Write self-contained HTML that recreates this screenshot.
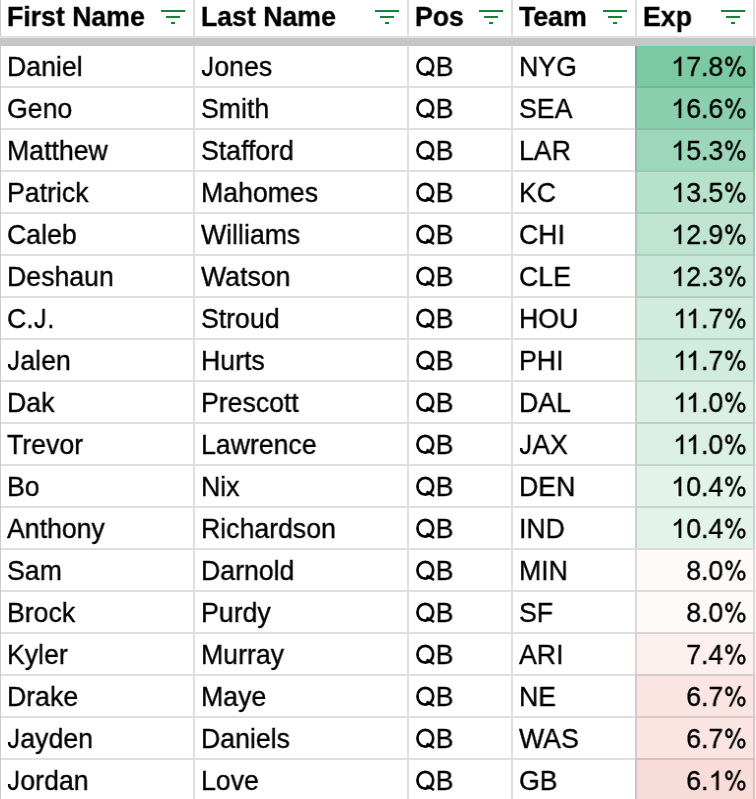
<!DOCTYPE html>
<html><head><meta charset="utf-8"><style>
html,body{margin:0;padding:0;}
body{width:756px;height:799px;overflow:hidden;position:relative;background:#fff;font-family:"Liberation Sans",sans-serif;color:#000;}
.a{position:absolute;}
.t{position:absolute;font-size:27.1px;line-height:40px;white-space:nowrap;will-change:transform;transform:scaleX(0.9841328413284133);transform-origin:0 0;-webkit-text-stroke:0.35px #000;}
.h{font-weight:bold;}
.one{width:0.556em;height:20px;vertical-align:baseline;fill:#000;stroke:#000;stroke-width:27px;overflow:visible}
.k{margin-right:-0.0742em}
.q{width:0.778em;height:22px;vertical-align:baseline;overflow:visible}
.q ellipse{fill:none;stroke:#000;stroke-width:2.65px}
.q line{stroke:#000;stroke-width:2.5px}
.jj{width:0.5em;height:22px;vertical-align:baseline;overflow:visible}
.jj path{fill:none;stroke:#000;stroke-width:2.55px}
.pct{width:0.889em;height:22px;vertical-align:baseline;overflow:visible}
.pct ellipse{fill:none;stroke:#000;stroke-width:2.25px}
.pct .sl{fill:#000;stroke:#000;stroke-width:0.3px}
.r{text-align:right;transform-origin:100% 0;}
.f{position:absolute;background:#188038;height:2px;}
.vb{position:absolute;width:2px;top:0;height:799px;background:rgba(0,0,0,0.125);}
.hb{position:absolute;height:2px;left:0;width:756px;background:rgba(0,0,0,0.125);}
</style></head><body>

<div class="a" style="left:635px;top:44px;width:120px;height:42px;background:#7ac9a2"></div>
<div class="a" style="left:635px;top:86px;width:120px;height:42px;background:#8bd0ae"></div>
<div class="a" style="left:635px;top:128px;width:120px;height:42px;background:#9dd7bb"></div>
<div class="a" style="left:635px;top:170px;width:120px;height:42px;background:#b6e2cc"></div>
<div class="a" style="left:635px;top:212px;width:120px;height:42px;background:#bfe5d2"></div>
<div class="a" style="left:635px;top:254px;width:120px;height:42px;background:#c7e8d8"></div>
<div class="a" style="left:635px;top:296px;width:120px;height:42px;background:#d0ecde"></div>
<div class="a" style="left:635px;top:338px;width:120px;height:42px;background:#d0ecde"></div>
<div class="a" style="left:635px;top:380px;width:120px;height:42px;background:#daf0e5"></div>
<div class="a" style="left:635px;top:422px;width:120px;height:42px;background:#daf0e5"></div>
<div class="a" style="left:635px;top:464px;width:120px;height:42px;background:#e2f3eb"></div>
<div class="a" style="left:635px;top:506px;width:120px;height:42px;background:#e2f3eb"></div>
<div class="a" style="left:635px;top:548px;width:120px;height:42px;background:#fefaf9"></div>
<div class="a" style="left:635px;top:590px;width:120px;height:42px;background:#fefaf9"></div>
<div class="a" style="left:635px;top:632px;width:120px;height:42px;background:#fcf0ef"></div>
<div class="a" style="left:635px;top:674px;width:120px;height:42px;background:#fae5e3"></div>
<div class="a" style="left:635px;top:716px;width:120px;height:42px;background:#fae5e3"></div>
<div class="a" style="left:635px;top:758px;width:120px;height:42px;background:#f8dcd9"></div>
<div class="hb" style="top:86px"></div>
<div class="hb" style="top:128px"></div>
<div class="hb" style="top:170px"></div>
<div class="hb" style="top:212px"></div>
<div class="hb" style="top:254px"></div>
<div class="hb" style="top:296px"></div>
<div class="hb" style="top:338px"></div>
<div class="hb" style="top:380px"></div>
<div class="hb" style="top:422px"></div>
<div class="hb" style="top:464px"></div>
<div class="hb" style="top:506px"></div>
<div class="hb" style="top:548px"></div>
<div class="hb" style="top:590px"></div>
<div class="hb" style="top:632px"></div>
<div class="hb" style="top:674px"></div>
<div class="hb" style="top:716px"></div>
<div class="hb" style="top:758px"></div>
<div class="hb" style="top:800px"></div>
<div class="vb" style="left:193px;top:0px;height:36px"></div>
<div class="vb" style="left:193px;top:46px;height:40px"></div>
<div class="vb" style="left:193px;top:88px;height:40px"></div>
<div class="vb" style="left:193px;top:130px;height:40px"></div>
<div class="vb" style="left:193px;top:172px;height:40px"></div>
<div class="vb" style="left:193px;top:214px;height:40px"></div>
<div class="vb" style="left:193px;top:256px;height:40px"></div>
<div class="vb" style="left:193px;top:298px;height:40px"></div>
<div class="vb" style="left:193px;top:340px;height:40px"></div>
<div class="vb" style="left:193px;top:382px;height:40px"></div>
<div class="vb" style="left:193px;top:424px;height:40px"></div>
<div class="vb" style="left:193px;top:466px;height:40px"></div>
<div class="vb" style="left:193px;top:508px;height:40px"></div>
<div class="vb" style="left:193px;top:550px;height:40px"></div>
<div class="vb" style="left:193px;top:592px;height:40px"></div>
<div class="vb" style="left:193px;top:634px;height:40px"></div>
<div class="vb" style="left:193px;top:676px;height:40px"></div>
<div class="vb" style="left:193px;top:718px;height:40px"></div>
<div class="vb" style="left:193px;top:760px;height:40px"></div>
<div class="vb" style="left:407px;top:0px;height:36px"></div>
<div class="vb" style="left:407px;top:46px;height:40px"></div>
<div class="vb" style="left:407px;top:88px;height:40px"></div>
<div class="vb" style="left:407px;top:130px;height:40px"></div>
<div class="vb" style="left:407px;top:172px;height:40px"></div>
<div class="vb" style="left:407px;top:214px;height:40px"></div>
<div class="vb" style="left:407px;top:256px;height:40px"></div>
<div class="vb" style="left:407px;top:298px;height:40px"></div>
<div class="vb" style="left:407px;top:340px;height:40px"></div>
<div class="vb" style="left:407px;top:382px;height:40px"></div>
<div class="vb" style="left:407px;top:424px;height:40px"></div>
<div class="vb" style="left:407px;top:466px;height:40px"></div>
<div class="vb" style="left:407px;top:508px;height:40px"></div>
<div class="vb" style="left:407px;top:550px;height:40px"></div>
<div class="vb" style="left:407px;top:592px;height:40px"></div>
<div class="vb" style="left:407px;top:634px;height:40px"></div>
<div class="vb" style="left:407px;top:676px;height:40px"></div>
<div class="vb" style="left:407px;top:718px;height:40px"></div>
<div class="vb" style="left:407px;top:760px;height:40px"></div>
<div class="vb" style="left:511px;top:0px;height:36px"></div>
<div class="vb" style="left:511px;top:46px;height:40px"></div>
<div class="vb" style="left:511px;top:88px;height:40px"></div>
<div class="vb" style="left:511px;top:130px;height:40px"></div>
<div class="vb" style="left:511px;top:172px;height:40px"></div>
<div class="vb" style="left:511px;top:214px;height:40px"></div>
<div class="vb" style="left:511px;top:256px;height:40px"></div>
<div class="vb" style="left:511px;top:298px;height:40px"></div>
<div class="vb" style="left:511px;top:340px;height:40px"></div>
<div class="vb" style="left:511px;top:382px;height:40px"></div>
<div class="vb" style="left:511px;top:424px;height:40px"></div>
<div class="vb" style="left:511px;top:466px;height:40px"></div>
<div class="vb" style="left:511px;top:508px;height:40px"></div>
<div class="vb" style="left:511px;top:550px;height:40px"></div>
<div class="vb" style="left:511px;top:592px;height:40px"></div>
<div class="vb" style="left:511px;top:634px;height:40px"></div>
<div class="vb" style="left:511px;top:676px;height:40px"></div>
<div class="vb" style="left:511px;top:718px;height:40px"></div>
<div class="vb" style="left:511px;top:760px;height:40px"></div>
<div class="vb" style="left:635px;top:0px;height:36px"></div>
<div class="vb" style="left:635px;top:46px;height:40px"></div>
<div class="vb" style="left:635px;top:88px;height:40px"></div>
<div class="vb" style="left:635px;top:130px;height:40px"></div>
<div class="vb" style="left:635px;top:172px;height:40px"></div>
<div class="vb" style="left:635px;top:214px;height:40px"></div>
<div class="vb" style="left:635px;top:256px;height:40px"></div>
<div class="vb" style="left:635px;top:298px;height:40px"></div>
<div class="vb" style="left:635px;top:340px;height:40px"></div>
<div class="vb" style="left:635px;top:382px;height:40px"></div>
<div class="vb" style="left:635px;top:424px;height:40px"></div>
<div class="vb" style="left:635px;top:466px;height:40px"></div>
<div class="vb" style="left:635px;top:508px;height:40px"></div>
<div class="vb" style="left:635px;top:550px;height:40px"></div>
<div class="vb" style="left:635px;top:592px;height:40px"></div>
<div class="vb" style="left:635px;top:634px;height:40px"></div>
<div class="vb" style="left:635px;top:676px;height:40px"></div>
<div class="vb" style="left:635px;top:718px;height:40px"></div>
<div class="vb" style="left:635px;top:760px;height:40px"></div>
<div class="vb" style="left:753px;top:0px;height:36px"></div>
<div class="vb" style="left:753px;top:46px;height:40px"></div>
<div class="vb" style="left:753px;top:88px;height:40px"></div>
<div class="vb" style="left:753px;top:130px;height:40px"></div>
<div class="vb" style="left:753px;top:172px;height:40px"></div>
<div class="vb" style="left:753px;top:214px;height:40px"></div>
<div class="vb" style="left:753px;top:256px;height:40px"></div>
<div class="vb" style="left:753px;top:298px;height:40px"></div>
<div class="vb" style="left:753px;top:340px;height:40px"></div>
<div class="vb" style="left:753px;top:382px;height:40px"></div>
<div class="vb" style="left:753px;top:424px;height:40px"></div>
<div class="vb" style="left:753px;top:466px;height:40px"></div>
<div class="vb" style="left:753px;top:508px;height:40px"></div>
<div class="vb" style="left:753px;top:550px;height:40px"></div>
<div class="vb" style="left:753px;top:592px;height:40px"></div>
<div class="vb" style="left:753px;top:634px;height:40px"></div>
<div class="vb" style="left:753px;top:676px;height:40px"></div>
<div class="vb" style="left:753px;top:718px;height:40px"></div>
<div class="vb" style="left:753px;top:760px;height:40px"></div>
<div class="a" style="left:0;top:0;width:1px;height:799px;background:#c7cbcb"></div>
<div class="a" style="left:0;top:36px;width:756px;height:2px;background:#e0e0e0"></div>
<div class="a" style="left:0;top:38px;width:756px;height:8px;background:#c6c6c6"></div>
<div class="t h" style="left:7px;top:-3px">First Name</div>
<div class="f" style="left:161px;top:10px;width:24px"></div>
<div class="f" style="left:166px;top:16px;width:14px"></div>
<div class="f" style="left:171px;top:22px;width:4px"></div>
<div class="t h" style="left:201px;top:-3px">Last Name</div>
<div class="f" style="left:375px;top:10px;width:24px"></div>
<div class="f" style="left:380px;top:16px;width:14px"></div>
<div class="f" style="left:385px;top:22px;width:4px"></div>
<div class="t h" style="left:415px;top:-3px">Pos</div>
<div class="f" style="left:479px;top:10px;width:24px"></div>
<div class="f" style="left:484px;top:16px;width:14px"></div>
<div class="f" style="left:489px;top:22px;width:4px"></div>
<div class="t h" style="left:519px;top:-3px">Team</div>
<div class="f" style="left:603px;top:10px;width:24px"></div>
<div class="f" style="left:608px;top:16px;width:14px"></div>
<div class="f" style="left:613px;top:22px;width:4px"></div>
<div class="t h" style="left:643px;top:-3px">Exp</div>
<div class="f" style="left:721px;top:10px;width:24px"></div>
<div class="f" style="left:726px;top:16px;width:14px"></div>
<div class="f" style="left:731px;top:22px;width:4px"></div>
<div class="t" style="left:7px;top:47px">Daniel</div>
<div class="t" style="left:201px;top:47px"><svg class="jj" viewBox="0 -22 13.33 22" preserveAspectRatio="none"><path d="M9.95 -19.3L9.95 -7.0C9.95 -2.6 8.3 -1.1 6.0 -1.1C3.4 -1.1 2.1 -2.7 2.1 -6.0"/></svg>ones</div>
<div class="t" style="left:415px;top:47px"><svg class="q" viewBox="0 -22 20.75 22" preserveAspectRatio="none"><ellipse cx="10.25" cy="-9.75" rx="7.85" ry="8.45"/><line x1="11.4" y1="-4.3" x2="19.0" y2="0"/></svg>B</div>
<div class="t" style="left:519px;top:47px">NYG</div>
<div class="t r" style="left:637px;width:110px;top:47px"><svg class="one" viewBox="0 -1536 1139 1536" preserveAspectRatio="none"><path transform="scale(1,-1)" d="M763 0L583 0L583 1147Q518 1085 412 1023Q306 961 222 930L222 1104Q373 1175 486 1276Q599 1377 646 1472L763 1472Z"/></svg>7.8<svg class="pct" viewBox="0 -22 23.71 22" preserveAspectRatio="none"><ellipse cx="5.6" cy="-14.7" rx="2.8" ry="3.9"/><ellipse cx="18.0" cy="-4.6" rx="3.1" ry="4.1"/><path class="sl" d="M5.7 0.6L7.7 0.6L17.6 -20.0L15.6 -20.0Z"/></svg></div>
<div class="t" style="left:7px;top:89px">Geno</div>
<div class="t" style="left:201px;top:89px">Smith</div>
<div class="t" style="left:415px;top:89px"><svg class="q" viewBox="0 -22 20.75 22" preserveAspectRatio="none"><ellipse cx="10.25" cy="-9.75" rx="7.85" ry="8.45"/><line x1="11.4" y1="-4.3" x2="19.0" y2="0"/></svg>B</div>
<div class="t" style="left:519px;top:89px">SEA</div>
<div class="t r" style="left:637px;width:110px;top:89px"><svg class="one" viewBox="0 -1536 1139 1536" preserveAspectRatio="none"><path transform="scale(1,-1)" d="M763 0L583 0L583 1147Q518 1085 412 1023Q306 961 222 930L222 1104Q373 1175 486 1276Q599 1377 646 1472L763 1472Z"/></svg>6.6<svg class="pct" viewBox="0 -22 23.71 22" preserveAspectRatio="none"><ellipse cx="5.6" cy="-14.7" rx="2.8" ry="3.9"/><ellipse cx="18.0" cy="-4.6" rx="3.1" ry="4.1"/><path class="sl" d="M5.7 0.6L7.7 0.6L17.6 -20.0L15.6 -20.0Z"/></svg></div>
<div class="t" style="left:7px;top:131px">Matthew</div>
<div class="t" style="left:201px;top:131px">Stafford</div>
<div class="t" style="left:415px;top:131px"><svg class="q" viewBox="0 -22 20.75 22" preserveAspectRatio="none"><ellipse cx="10.25" cy="-9.75" rx="7.85" ry="8.45"/><line x1="11.4" y1="-4.3" x2="19.0" y2="0"/></svg>B</div>
<div class="t" style="left:519px;top:131px">LAR</div>
<div class="t r" style="left:637px;width:110px;top:131px"><svg class="one" viewBox="0 -1536 1139 1536" preserveAspectRatio="none"><path transform="scale(1,-1)" d="M763 0L583 0L583 1147Q518 1085 412 1023Q306 961 222 930L222 1104Q373 1175 486 1276Q599 1377 646 1472L763 1472Z"/></svg>5.3<svg class="pct" viewBox="0 -22 23.71 22" preserveAspectRatio="none"><ellipse cx="5.6" cy="-14.7" rx="2.8" ry="3.9"/><ellipse cx="18.0" cy="-4.6" rx="3.1" ry="4.1"/><path class="sl" d="M5.7 0.6L7.7 0.6L17.6 -20.0L15.6 -20.0Z"/></svg></div>
<div class="t" style="left:7px;top:173px">Patrick</div>
<div class="t" style="left:201px;top:173px">Mahomes</div>
<div class="t" style="left:415px;top:173px"><svg class="q" viewBox="0 -22 20.75 22" preserveAspectRatio="none"><ellipse cx="10.25" cy="-9.75" rx="7.85" ry="8.45"/><line x1="11.4" y1="-4.3" x2="19.0" y2="0"/></svg>B</div>
<div class="t" style="left:519px;top:173px">KC</div>
<div class="t r" style="left:637px;width:110px;top:173px"><svg class="one" viewBox="0 -1536 1139 1536" preserveAspectRatio="none"><path transform="scale(1,-1)" d="M763 0L583 0L583 1147Q518 1085 412 1023Q306 961 222 930L222 1104Q373 1175 486 1276Q599 1377 646 1472L763 1472Z"/></svg>3.5<svg class="pct" viewBox="0 -22 23.71 22" preserveAspectRatio="none"><ellipse cx="5.6" cy="-14.7" rx="2.8" ry="3.9"/><ellipse cx="18.0" cy="-4.6" rx="3.1" ry="4.1"/><path class="sl" d="M5.7 0.6L7.7 0.6L17.6 -20.0L15.6 -20.0Z"/></svg></div>
<div class="t" style="left:7px;top:215px">Caleb</div>
<div class="t" style="left:201px;top:215px">Williams</div>
<div class="t" style="left:415px;top:215px"><svg class="q" viewBox="0 -22 20.75 22" preserveAspectRatio="none"><ellipse cx="10.25" cy="-9.75" rx="7.85" ry="8.45"/><line x1="11.4" y1="-4.3" x2="19.0" y2="0"/></svg>B</div>
<div class="t" style="left:519px;top:215px">CHI</div>
<div class="t r" style="left:637px;width:110px;top:215px"><svg class="one" viewBox="0 -1536 1139 1536" preserveAspectRatio="none"><path transform="scale(1,-1)" d="M763 0L583 0L583 1147Q518 1085 412 1023Q306 961 222 930L222 1104Q373 1175 486 1276Q599 1377 646 1472L763 1472Z"/></svg>2.9<svg class="pct" viewBox="0 -22 23.71 22" preserveAspectRatio="none"><ellipse cx="5.6" cy="-14.7" rx="2.8" ry="3.9"/><ellipse cx="18.0" cy="-4.6" rx="3.1" ry="4.1"/><path class="sl" d="M5.7 0.6L7.7 0.6L17.6 -20.0L15.6 -20.0Z"/></svg></div>
<div class="t" style="left:7px;top:257px">Deshaun</div>
<div class="t" style="left:201px;top:257px">Watson</div>
<div class="t" style="left:415px;top:257px"><svg class="q" viewBox="0 -22 20.75 22" preserveAspectRatio="none"><ellipse cx="10.25" cy="-9.75" rx="7.85" ry="8.45"/><line x1="11.4" y1="-4.3" x2="19.0" y2="0"/></svg>B</div>
<div class="t" style="left:519px;top:257px">CLE</div>
<div class="t r" style="left:637px;width:110px;top:257px"><svg class="one" viewBox="0 -1536 1139 1536" preserveAspectRatio="none"><path transform="scale(1,-1)" d="M763 0L583 0L583 1147Q518 1085 412 1023Q306 961 222 930L222 1104Q373 1175 486 1276Q599 1377 646 1472L763 1472Z"/></svg>2.3<svg class="pct" viewBox="0 -22 23.71 22" preserveAspectRatio="none"><ellipse cx="5.6" cy="-14.7" rx="2.8" ry="3.9"/><ellipse cx="18.0" cy="-4.6" rx="3.1" ry="4.1"/><path class="sl" d="M5.7 0.6L7.7 0.6L17.6 -20.0L15.6 -20.0Z"/></svg></div>
<div class="t" style="left:7px;top:299px">C.<svg class="jj" viewBox="0 -22 13.33 22" preserveAspectRatio="none"><path d="M9.95 -19.3L9.95 -7.0C9.95 -2.6 8.3 -1.1 6.0 -1.1C3.4 -1.1 2.1 -2.7 2.1 -6.0"/></svg>.</div>
<div class="t" style="left:201px;top:299px">Stroud</div>
<div class="t" style="left:415px;top:299px"><svg class="q" viewBox="0 -22 20.75 22" preserveAspectRatio="none"><ellipse cx="10.25" cy="-9.75" rx="7.85" ry="8.45"/><line x1="11.4" y1="-4.3" x2="19.0" y2="0"/></svg>B</div>
<div class="t" style="left:519px;top:299px">HOU</div>
<div class="t r" style="left:637px;width:110px;top:299px"><svg class="one k" viewBox="0 -1536 1139 1536" preserveAspectRatio="none"><path transform="scale(1,-1)" d="M763 0L583 0L583 1147Q518 1085 412 1023Q306 961 222 930L222 1104Q373 1175 486 1276Q599 1377 646 1472L763 1472Z"/></svg><svg class="one" viewBox="0 -1536 1139 1536" preserveAspectRatio="none"><path transform="scale(1,-1)" d="M763 0L583 0L583 1147Q518 1085 412 1023Q306 961 222 930L222 1104Q373 1175 486 1276Q599 1377 646 1472L763 1472Z"/></svg>.7<svg class="pct" viewBox="0 -22 23.71 22" preserveAspectRatio="none"><ellipse cx="5.6" cy="-14.7" rx="2.8" ry="3.9"/><ellipse cx="18.0" cy="-4.6" rx="3.1" ry="4.1"/><path class="sl" d="M5.7 0.6L7.7 0.6L17.6 -20.0L15.6 -20.0Z"/></svg></div>
<div class="t" style="left:7px;top:341px"><svg class="jj" viewBox="0 -22 13.33 22" preserveAspectRatio="none"><path d="M9.95 -19.3L9.95 -7.0C9.95 -2.6 8.3 -1.1 6.0 -1.1C3.4 -1.1 2.1 -2.7 2.1 -6.0"/></svg>alen</div>
<div class="t" style="left:201px;top:341px">Hurts</div>
<div class="t" style="left:415px;top:341px"><svg class="q" viewBox="0 -22 20.75 22" preserveAspectRatio="none"><ellipse cx="10.25" cy="-9.75" rx="7.85" ry="8.45"/><line x1="11.4" y1="-4.3" x2="19.0" y2="0"/></svg>B</div>
<div class="t" style="left:519px;top:341px">PHI</div>
<div class="t r" style="left:637px;width:110px;top:341px"><svg class="one k" viewBox="0 -1536 1139 1536" preserveAspectRatio="none"><path transform="scale(1,-1)" d="M763 0L583 0L583 1147Q518 1085 412 1023Q306 961 222 930L222 1104Q373 1175 486 1276Q599 1377 646 1472L763 1472Z"/></svg><svg class="one" viewBox="0 -1536 1139 1536" preserveAspectRatio="none"><path transform="scale(1,-1)" d="M763 0L583 0L583 1147Q518 1085 412 1023Q306 961 222 930L222 1104Q373 1175 486 1276Q599 1377 646 1472L763 1472Z"/></svg>.7<svg class="pct" viewBox="0 -22 23.71 22" preserveAspectRatio="none"><ellipse cx="5.6" cy="-14.7" rx="2.8" ry="3.9"/><ellipse cx="18.0" cy="-4.6" rx="3.1" ry="4.1"/><path class="sl" d="M5.7 0.6L7.7 0.6L17.6 -20.0L15.6 -20.0Z"/></svg></div>
<div class="t" style="left:7px;top:383px">Dak</div>
<div class="t" style="left:201px;top:383px">Prescott</div>
<div class="t" style="left:415px;top:383px"><svg class="q" viewBox="0 -22 20.75 22" preserveAspectRatio="none"><ellipse cx="10.25" cy="-9.75" rx="7.85" ry="8.45"/><line x1="11.4" y1="-4.3" x2="19.0" y2="0"/></svg>B</div>
<div class="t" style="left:519px;top:383px">DAL</div>
<div class="t r" style="left:637px;width:110px;top:383px"><svg class="one k" viewBox="0 -1536 1139 1536" preserveAspectRatio="none"><path transform="scale(1,-1)" d="M763 0L583 0L583 1147Q518 1085 412 1023Q306 961 222 930L222 1104Q373 1175 486 1276Q599 1377 646 1472L763 1472Z"/></svg><svg class="one" viewBox="0 -1536 1139 1536" preserveAspectRatio="none"><path transform="scale(1,-1)" d="M763 0L583 0L583 1147Q518 1085 412 1023Q306 961 222 930L222 1104Q373 1175 486 1276Q599 1377 646 1472L763 1472Z"/></svg>.0<svg class="pct" viewBox="0 -22 23.71 22" preserveAspectRatio="none"><ellipse cx="5.6" cy="-14.7" rx="2.8" ry="3.9"/><ellipse cx="18.0" cy="-4.6" rx="3.1" ry="4.1"/><path class="sl" d="M5.7 0.6L7.7 0.6L17.6 -20.0L15.6 -20.0Z"/></svg></div>
<div class="t" style="left:7px;top:425px">Trevor</div>
<div class="t" style="left:201px;top:425px">Lawrence</div>
<div class="t" style="left:415px;top:425px"><svg class="q" viewBox="0 -22 20.75 22" preserveAspectRatio="none"><ellipse cx="10.25" cy="-9.75" rx="7.85" ry="8.45"/><line x1="11.4" y1="-4.3" x2="19.0" y2="0"/></svg>B</div>
<div class="t" style="left:519px;top:425px"><svg class="jj" viewBox="0 -22 13.33 22" preserveAspectRatio="none"><path d="M9.95 -19.3L9.95 -7.0C9.95 -2.6 8.3 -1.1 6.0 -1.1C3.4 -1.1 2.1 -2.7 2.1 -6.0"/></svg>AX</div>
<div class="t r" style="left:637px;width:110px;top:425px"><svg class="one k" viewBox="0 -1536 1139 1536" preserveAspectRatio="none"><path transform="scale(1,-1)" d="M763 0L583 0L583 1147Q518 1085 412 1023Q306 961 222 930L222 1104Q373 1175 486 1276Q599 1377 646 1472L763 1472Z"/></svg><svg class="one" viewBox="0 -1536 1139 1536" preserveAspectRatio="none"><path transform="scale(1,-1)" d="M763 0L583 0L583 1147Q518 1085 412 1023Q306 961 222 930L222 1104Q373 1175 486 1276Q599 1377 646 1472L763 1472Z"/></svg>.0<svg class="pct" viewBox="0 -22 23.71 22" preserveAspectRatio="none"><ellipse cx="5.6" cy="-14.7" rx="2.8" ry="3.9"/><ellipse cx="18.0" cy="-4.6" rx="3.1" ry="4.1"/><path class="sl" d="M5.7 0.6L7.7 0.6L17.6 -20.0L15.6 -20.0Z"/></svg></div>
<div class="t" style="left:7px;top:467px">Bo</div>
<div class="t" style="left:201px;top:467px">Nix</div>
<div class="t" style="left:415px;top:467px"><svg class="q" viewBox="0 -22 20.75 22" preserveAspectRatio="none"><ellipse cx="10.25" cy="-9.75" rx="7.85" ry="8.45"/><line x1="11.4" y1="-4.3" x2="19.0" y2="0"/></svg>B</div>
<div class="t" style="left:519px;top:467px">DEN</div>
<div class="t r" style="left:637px;width:110px;top:467px"><svg class="one" viewBox="0 -1536 1139 1536" preserveAspectRatio="none"><path transform="scale(1,-1)" d="M763 0L583 0L583 1147Q518 1085 412 1023Q306 961 222 930L222 1104Q373 1175 486 1276Q599 1377 646 1472L763 1472Z"/></svg>0.4<svg class="pct" viewBox="0 -22 23.71 22" preserveAspectRatio="none"><ellipse cx="5.6" cy="-14.7" rx="2.8" ry="3.9"/><ellipse cx="18.0" cy="-4.6" rx="3.1" ry="4.1"/><path class="sl" d="M5.7 0.6L7.7 0.6L17.6 -20.0L15.6 -20.0Z"/></svg></div>
<div class="t" style="left:7px;top:509px">Anthony</div>
<div class="t" style="left:201px;top:509px">Richardson</div>
<div class="t" style="left:415px;top:509px"><svg class="q" viewBox="0 -22 20.75 22" preserveAspectRatio="none"><ellipse cx="10.25" cy="-9.75" rx="7.85" ry="8.45"/><line x1="11.4" y1="-4.3" x2="19.0" y2="0"/></svg>B</div>
<div class="t" style="left:519px;top:509px">IND</div>
<div class="t r" style="left:637px;width:110px;top:509px"><svg class="one" viewBox="0 -1536 1139 1536" preserveAspectRatio="none"><path transform="scale(1,-1)" d="M763 0L583 0L583 1147Q518 1085 412 1023Q306 961 222 930L222 1104Q373 1175 486 1276Q599 1377 646 1472L763 1472Z"/></svg>0.4<svg class="pct" viewBox="0 -22 23.71 22" preserveAspectRatio="none"><ellipse cx="5.6" cy="-14.7" rx="2.8" ry="3.9"/><ellipse cx="18.0" cy="-4.6" rx="3.1" ry="4.1"/><path class="sl" d="M5.7 0.6L7.7 0.6L17.6 -20.0L15.6 -20.0Z"/></svg></div>
<div class="t" style="left:7px;top:551px">Sam</div>
<div class="t" style="left:201px;top:551px">Darnold</div>
<div class="t" style="left:415px;top:551px"><svg class="q" viewBox="0 -22 20.75 22" preserveAspectRatio="none"><ellipse cx="10.25" cy="-9.75" rx="7.85" ry="8.45"/><line x1="11.4" y1="-4.3" x2="19.0" y2="0"/></svg>B</div>
<div class="t" style="left:519px;top:551px">MIN</div>
<div class="t r" style="left:637px;width:110px;top:551px">8.0<svg class="pct" viewBox="0 -22 23.71 22" preserveAspectRatio="none"><ellipse cx="5.6" cy="-14.7" rx="2.8" ry="3.9"/><ellipse cx="18.0" cy="-4.6" rx="3.1" ry="4.1"/><path class="sl" d="M5.7 0.6L7.7 0.6L17.6 -20.0L15.6 -20.0Z"/></svg></div>
<div class="t" style="left:7px;top:593px">Brock</div>
<div class="t" style="left:201px;top:593px">Purdy</div>
<div class="t" style="left:415px;top:593px"><svg class="q" viewBox="0 -22 20.75 22" preserveAspectRatio="none"><ellipse cx="10.25" cy="-9.75" rx="7.85" ry="8.45"/><line x1="11.4" y1="-4.3" x2="19.0" y2="0"/></svg>B</div>
<div class="t" style="left:519px;top:593px">SF</div>
<div class="t r" style="left:637px;width:110px;top:593px">8.0<svg class="pct" viewBox="0 -22 23.71 22" preserveAspectRatio="none"><ellipse cx="5.6" cy="-14.7" rx="2.8" ry="3.9"/><ellipse cx="18.0" cy="-4.6" rx="3.1" ry="4.1"/><path class="sl" d="M5.7 0.6L7.7 0.6L17.6 -20.0L15.6 -20.0Z"/></svg></div>
<div class="t" style="left:7px;top:635px">Kyler</div>
<div class="t" style="left:201px;top:635px">Murray</div>
<div class="t" style="left:415px;top:635px"><svg class="q" viewBox="0 -22 20.75 22" preserveAspectRatio="none"><ellipse cx="10.25" cy="-9.75" rx="7.85" ry="8.45"/><line x1="11.4" y1="-4.3" x2="19.0" y2="0"/></svg>B</div>
<div class="t" style="left:519px;top:635px">ARI</div>
<div class="t r" style="left:637px;width:110px;top:635px">7.4<svg class="pct" viewBox="0 -22 23.71 22" preserveAspectRatio="none"><ellipse cx="5.6" cy="-14.7" rx="2.8" ry="3.9"/><ellipse cx="18.0" cy="-4.6" rx="3.1" ry="4.1"/><path class="sl" d="M5.7 0.6L7.7 0.6L17.6 -20.0L15.6 -20.0Z"/></svg></div>
<div class="t" style="left:7px;top:677px">Drake</div>
<div class="t" style="left:201px;top:677px">Maye</div>
<div class="t" style="left:415px;top:677px"><svg class="q" viewBox="0 -22 20.75 22" preserveAspectRatio="none"><ellipse cx="10.25" cy="-9.75" rx="7.85" ry="8.45"/><line x1="11.4" y1="-4.3" x2="19.0" y2="0"/></svg>B</div>
<div class="t" style="left:519px;top:677px">NE</div>
<div class="t r" style="left:637px;width:110px;top:677px">6.7<svg class="pct" viewBox="0 -22 23.71 22" preserveAspectRatio="none"><ellipse cx="5.6" cy="-14.7" rx="2.8" ry="3.9"/><ellipse cx="18.0" cy="-4.6" rx="3.1" ry="4.1"/><path class="sl" d="M5.7 0.6L7.7 0.6L17.6 -20.0L15.6 -20.0Z"/></svg></div>
<div class="t" style="left:7px;top:719px"><svg class="jj" viewBox="0 -22 13.33 22" preserveAspectRatio="none"><path d="M9.95 -19.3L9.95 -7.0C9.95 -2.6 8.3 -1.1 6.0 -1.1C3.4 -1.1 2.1 -2.7 2.1 -6.0"/></svg>ayden</div>
<div class="t" style="left:201px;top:719px">Daniels</div>
<div class="t" style="left:415px;top:719px"><svg class="q" viewBox="0 -22 20.75 22" preserveAspectRatio="none"><ellipse cx="10.25" cy="-9.75" rx="7.85" ry="8.45"/><line x1="11.4" y1="-4.3" x2="19.0" y2="0"/></svg>B</div>
<div class="t" style="left:519px;top:719px">WAS</div>
<div class="t r" style="left:637px;width:110px;top:719px">6.7<svg class="pct" viewBox="0 -22 23.71 22" preserveAspectRatio="none"><ellipse cx="5.6" cy="-14.7" rx="2.8" ry="3.9"/><ellipse cx="18.0" cy="-4.6" rx="3.1" ry="4.1"/><path class="sl" d="M5.7 0.6L7.7 0.6L17.6 -20.0L15.6 -20.0Z"/></svg></div>
<div class="t" style="left:7px;top:761px"><svg class="jj" viewBox="0 -22 13.33 22" preserveAspectRatio="none"><path d="M9.95 -19.3L9.95 -7.0C9.95 -2.6 8.3 -1.1 6.0 -1.1C3.4 -1.1 2.1 -2.7 2.1 -6.0"/></svg>ordan</div>
<div class="t" style="left:201px;top:761px">Love</div>
<div class="t" style="left:415px;top:761px"><svg class="q" viewBox="0 -22 20.75 22" preserveAspectRatio="none"><ellipse cx="10.25" cy="-9.75" rx="7.85" ry="8.45"/><line x1="11.4" y1="-4.3" x2="19.0" y2="0"/></svg>B</div>
<div class="t" style="left:519px;top:761px">GB</div>
<div class="t r" style="left:637px;width:110px;top:761px">6.<svg class="one" viewBox="0 -1536 1139 1536" preserveAspectRatio="none"><path transform="scale(1,-1)" d="M763 0L583 0L583 1147Q518 1085 412 1023Q306 961 222 930L222 1104Q373 1175 486 1276Q599 1377 646 1472L763 1472Z"/></svg><svg class="pct" viewBox="0 -22 23.71 22" preserveAspectRatio="none"><ellipse cx="5.6" cy="-14.7" rx="2.8" ry="3.9"/><ellipse cx="18.0" cy="-4.6" rx="3.1" ry="4.1"/><path class="sl" d="M5.7 0.6L7.7 0.6L17.6 -20.0L15.6 -20.0Z"/></svg></div>
</body></html>
